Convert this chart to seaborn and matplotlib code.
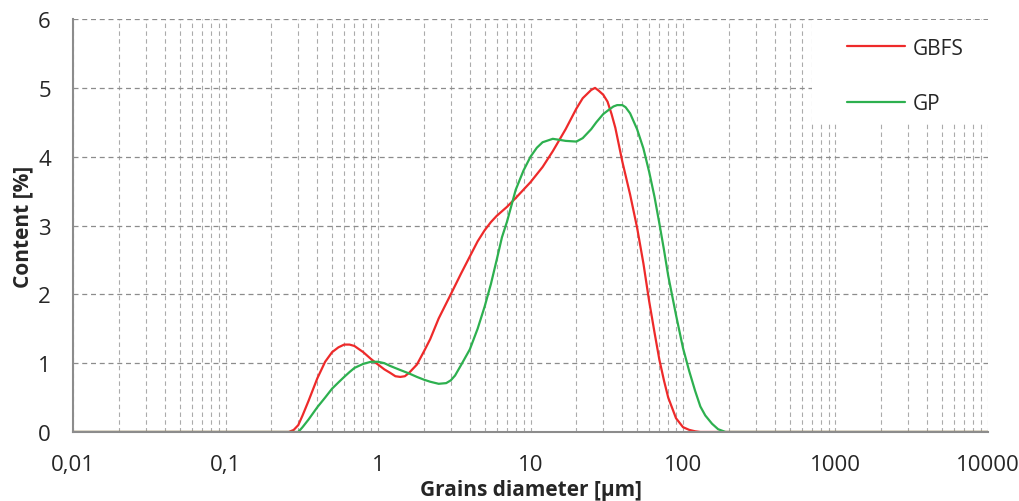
import seaborn as sns
import matplotlib.pyplot as plt
import matplotlib.ticker as mticker
from matplotlib.patches import Rectangle
import pandas as pd

# Particle size distribution
gbfs_size = [0.01, 0.26, 0.28, 0.3, 0.32, 0.35, 0.4, 0.45, 0.5, 0.55, 0.6, 0.65, 0.7,
             0.8, 0.9, 1.0, 1.1, 1.2, 1.3, 1.4, 1.5, 1.6, 1.8, 2.0, 2.2, 2.5, 3, 3.5,
             4, 4.5, 5, 5.5, 6, 7, 8, 10, 12, 14, 17, 20, 22, 25, 26.5, 28, 30, 32,
             34, 36, 38, 40, 45, 50, 55, 60, 65, 70, 75, 80, 90, 100, 110, 120, 130,
             10000]
gbfs_content = [0, 0, 0.03, 0.1, 0.24, 0.45, 0.78, 1.02, 1.16, 1.23, 1.27, 1.27, 1.25,
                1.16, 1.06, 0.98, 0.91, 0.86, 0.81, 0.80, 0.81, 0.86, 0.98, 1.17, 1.35,
                1.65, 2.0, 2.3, 2.55, 2.77, 2.93, 3.05, 3.14, 3.27, 3.4, 3.63, 3.85,
                4.08, 4.4, 4.7, 4.85, 4.97, 5.0, 4.96, 4.9, 4.8, 4.62, 4.42, 4.17, 3.93,
                3.45, 2.97, 2.45, 1.9, 1.45, 1.05, 0.75, 0.5, 0.2, 0.07, 0.03, 0.01, 0, 0]

gp_size = [0.01, 0.3, 0.32, 0.35, 0.4, 0.45, 0.5, 0.55, 0.6, 0.65, 0.7, 0.8, 0.9, 1.0,
           1.1, 1.2, 1.4, 1.6, 1.8, 2.0, 2.2, 2.5, 2.8, 3, 3.2, 3.5, 4, 4.5, 5, 5.5,
           6, 6.5, 7, 8, 9, 10, 11, 12, 14, 16, 17, 20, 22, 25, 27, 30, 33, 35, 37,
           40, 42, 45, 50, 55, 60, 65, 70, 75, 80, 90, 100, 110, 120, 130, 140, 155,
           170, 190, 10000]
gp_content = [0, 0, 0.07, 0.18, 0.36, 0.5, 0.63, 0.72, 0.8, 0.87, 0.93, 0.99, 1.02, 1.02,
              1.0, 0.96, 0.9, 0.85, 0.8, 0.76, 0.73, 0.70, 0.71, 0.75, 0.82, 0.97, 1.2,
              1.5, 1.82, 2.15, 2.5, 2.83, 3.05, 3.52, 3.8, 4.0, 4.13, 4.21, 4.26, 4.24,
              4.23, 4.22, 4.27, 4.4, 4.5, 4.62, 4.69, 4.73, 4.75, 4.75, 4.72, 4.63, 4.4,
              4.12, 3.78, 3.42, 3.03, 2.65, 2.27, 1.7, 1.22, 0.88, 0.6, 0.37, 0.24, 0.12,
              0.04, 0, 0]

x_ticks = [0.01, 0.1, 1, 10, 100, 1000, 10000]
y_ticks = [0, 1, 2, 3, 4, 5, 6]

df = pd.concat([
    pd.DataFrame({'size': gbfs_size, 'content': gbfs_content, 'material': 'GBFS'}),
    pd.DataFrame({'size': gp_size, 'content': gp_content, 'material': 'GP'}),
])

sns.set_style("white")
plt.rcParams['font.family'] = ['Open Sans', 'DejaVu Sans']

fig = plt.figure(figsize=(10.2, 5.02), dpi=100)
ax = fig.add_axes([0.0716, 0.1375, 0.897, 0.8225])

sns.lineplot(data=df, x='size', y='content', hue='material', sort=False,
             palette={'GBFS': '#EE2A2A', 'GP': '#2DB04F'}, linewidth=1.6, ax=ax)

ax.set_xscale('log')
ax.set_xlim(0.01, 10000)
ax.set_ylim(0, 6)
ax.set_xticks(x_ticks)
ax.set_yticks(y_ticks)
ax.xaxis.set_minor_locator(mticker.LogLocator(base=10, subs=range(2, 10), numticks=20))
ax.xaxis.set_major_formatter(mticker.FuncFormatter(lambda v, p: f"{v:g}".replace('.', ',')))
ax.xaxis.set_minor_formatter(mticker.NullFormatter())

ax.grid(True, which='major', axis='y', linestyle=(0, (4, 3)), color='#8C8C8C', linewidth=0.9)
ax.grid(True, which='both', axis='x', linestyle=(0, (4, 3)), color='#ABABAB', linewidth=0.8)

for side in ['top', 'right']:
    ax.spines[side].set_visible(False)
for side in ['left', 'bottom']:
    ax.spines[side].set_color('#8C8C8C')
    ax.spines[side].set_linewidth(1.5)

ax.tick_params(axis='both', which='major', direction='out', length=7, width=1.2,
               color='#8C8C8C', labelsize=16)
ax.tick_params(axis='y', pad=9)
ax.tick_params(axis='x', pad=9)
ax.tick_params(axis='x', which='minor', length=0)

ax.set_xlabel('Grains diameter [µm]', fontsize=15, fontweight='bold', labelpad=3)
ax.set_ylabel('Content [%]', fontsize=15, fontweight='bold', labelpad=3)

# white legend area that hides the grid in the upper right corner
ax.add_patch(Rectangle((0.8077, 0.746), 0.196, 0.2515, transform=ax.transAxes,
                       facecolor='white', edgecolor='none', zorder=1, clip_on=False))

ax.legend(loc='upper left', bbox_to_anchor=(0.846, 0.955), fontsize=15,
          frameon=False, labelspacing=1.65, handlelength=2.8, handletextpad=0.35,
          borderpad=0, borderaxespad=0)

plt.savefig('out.png', dpi=100)
